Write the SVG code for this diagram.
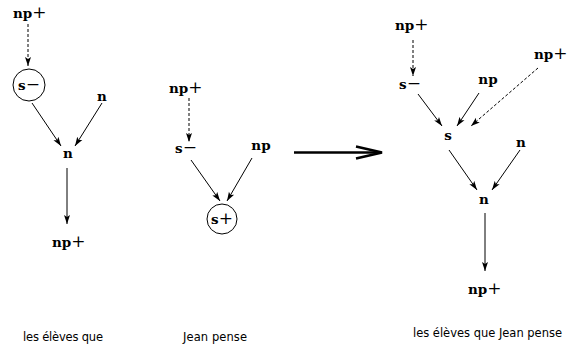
<svg xmlns="http://www.w3.org/2000/svg" width="572" height="360" viewBox="0 0 572 360">
<defs>
<style>
.t{font-family:"DejaVu Serif","Liberation Serif",serif;font-weight:bold;font-size:13.5px;fill:#000}
.op{font-weight:normal;font-size:17px}
.lab{font-family:"DejaVu Sans","Liberation Sans",sans-serif;font-size:11.5px;fill:#000}
.e{stroke:#000;stroke-width:1;fill:none}
.d{stroke:#000;stroke-width:1;fill:none;stroke-dasharray:3,2}
.c{stroke:#000;stroke-width:1;fill:none}
</style>
<marker id="ah" markerWidth="10" markerHeight="8" refX="9" refY="4" orient="auto" markerUnits="userSpaceOnUse">
<path d="M0,1 L9,4 L0,7 L2,4 Z" fill="#000"/>
</marker>
</defs>
<rect width="572" height="360" fill="#fff"/>

<g id="connectors">
<line class="d" x1="28" y1="24" x2="28" y2="66" marker-end="url(#ah)"/>
<line class="e" x1="32" y1="103" x2="61" y2="146" marker-end="url(#ah)"/>
<line class="e" x1="102" y1="103" x2="75" y2="146" marker-end="url(#ah)"/>
<line class="e" x1="67" y1="168" x2="67" y2="224" marker-end="url(#ah)"/>

<line class="d" x1="189" y1="98" x2="189" y2="142" marker-end="url(#ah)"/>
<line class="e" x1="191" y1="160" x2="220" y2="201" marker-end="url(#ah)"/>
<line class="e" x1="252" y1="158" x2="227" y2="201" marker-end="url(#ah)"/>

<line x1="294" y1="152.5" x2="381" y2="152.5" stroke="#000" stroke-width="2.5"/>
<polyline points="356,146.5 382,152.5 356,158.5" fill="none" stroke="#000" stroke-width="2.5" stroke-linejoin="miter"/>

<line class="d" x1="413" y1="40" x2="413" y2="76" marker-end="url(#ah)"/>
<line class="e" x1="418" y1="94" x2="442" y2="126" marker-end="url(#ah)"/>
<line class="e" x1="479" y1="93" x2="457" y2="126" marker-end="url(#ah)"/>
<line class="d" x1="538" y1="68" x2="471" y2="126" marker-end="url(#ah)"/>
<line class="e" x1="449" y1="150" x2="477" y2="190" marker-end="url(#ah)"/>
<line class="e" x1="520" y1="150" x2="492" y2="190" marker-end="url(#ah)"/>
<line class="e" x1="485" y1="213" x2="485" y2="271" marker-end="url(#ah)"/>
</g>

<g id="l-np-top"><text class="t" x="13" y="18">np<tspan class="op">+</tspan></text></g>
<g id="l-s-minus"><circle class="c" cx="29" cy="85" r="16"/><text class="t" x="29" y="90" text-anchor="middle">s<tspan class="op">−</tspan></text></g>
<g id="l-n-right"><text class="t" x="102" y="101" text-anchor="middle">n</text></g>
<g id="l-n-mid"><text class="t" x="68" y="158" text-anchor="middle">n</text></g>
<g id="l-np-bottom"><text class="t" x="52" y="247">np<tspan class="op">+</tspan></text></g>
<g id="l-label"><text class="lab" x="23" y="341" textLength="80">les élèves que</text></g>

<g id="m-np-top"><text class="t" x="169" y="93">np<tspan class="op">+</tspan></text></g>
<g id="m-s-minus"><text class="t" x="186" y="153" text-anchor="middle">s<tspan class="op">−</tspan></text></g>
<g id="m-np"><text class="t" x="261" y="150" text-anchor="middle">np</text></g>
<g id="m-s-plus"><circle class="c" cx="222" cy="219" r="15"/><text class="t" x="222" y="224" text-anchor="middle">s<tspan class="op">+</tspan></text></g>
<g id="m-label"><text class="lab" x="183" y="341" textLength="64">Jean pense</text></g>

<g id="r-np-top"><text class="t" x="395" y="30">np<tspan class="op">+</tspan></text></g>
<g id="r-s-minus"><text class="t" x="410" y="89" text-anchor="middle">s<tspan class="op">−</tspan></text></g>
<g id="r-np"><text class="t" x="488" y="84" text-anchor="middle">np</text></g>
<g id="r-np-right"><text class="t" x="534" y="59">np<tspan class="op">+</tspan></text></g>
<g id="r-s"><text class="t" x="448" y="140" text-anchor="middle">s</text></g>
<g id="r-n-right"><text class="t" x="521" y="147" text-anchor="middle">n</text></g>
<g id="r-n"><text class="t" x="484" y="204" text-anchor="middle">n</text></g>
<g id="r-np-bottom"><text class="t" x="468" y="294">np<tspan class="op">+</tspan></text></g>
<g id="r-label"><text class="lab" x="413" y="337" textLength="149">les élèves que Jean pense</text></g>
</svg>
